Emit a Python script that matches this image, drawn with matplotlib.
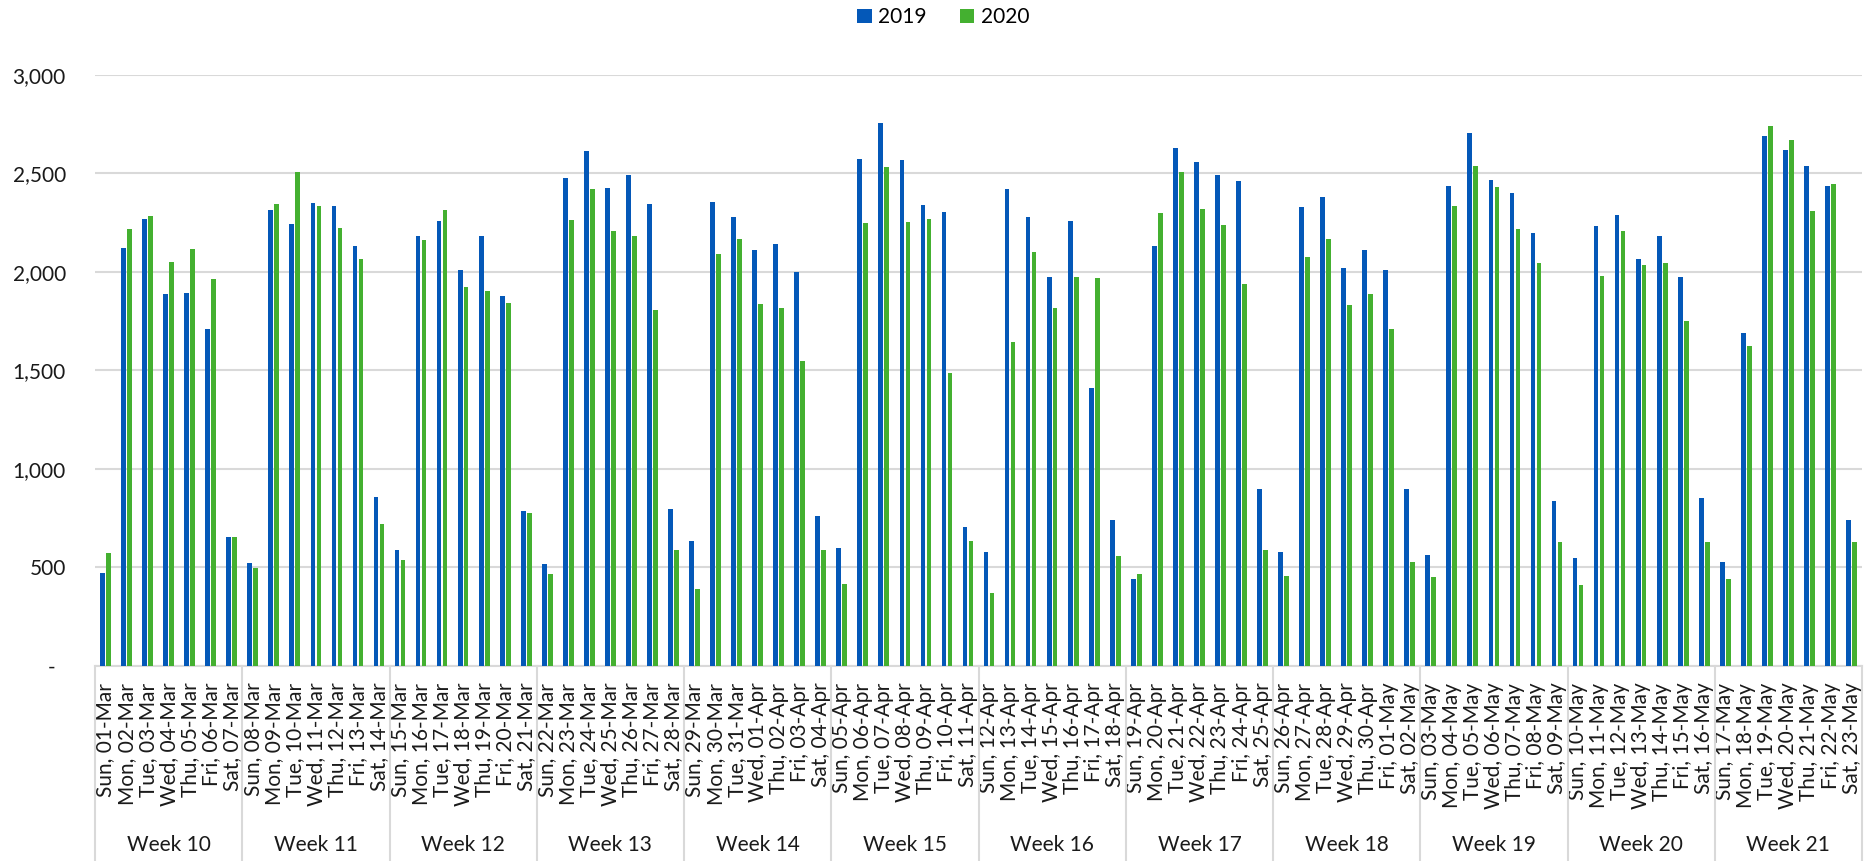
import matplotlib
matplotlib.use("Agg")
import matplotlib.pyplot as plt
import matplotlib.transforms as mtransforms
from matplotlib.patches import Patch
import pandas as pd

plt.rcParams['font.family'] = ['Lato', 'DejaVu Sans']

# 84 days, 01-Mar .. 23-May (2020 calendar)
days = pd.date_range("2020-03-01", "2020-05-23", freq="D")
day_labels = [d.strftime("%a, %d-%b") for d in days]
weeks = ["Week %d" % w for w in range(10, 22)]

v2019 = [474, 2120, 2267, 1888, 1894, 1709, 657,
         522, 2313, 2243, 2349, 2333, 2131, 857,
         590, 2185, 2261, 2010, 2181, 1880, 785,
         520, 2478, 2612, 2428, 2490, 2347, 797,
         635, 2355, 2281, 2114, 2143, 1998, 763,
         600, 2572, 2757, 2566, 2341, 2307, 707,
         580, 2422, 2279, 1976, 2261, 1412, 739,
         444, 2133, 2629, 2558, 2492, 2464, 896,
         580, 2329, 2382, 2022, 2112, 2008, 896,
         564, 2436, 2705, 2468, 2402, 2197, 837,
         550, 2231, 2289, 2068, 2181, 1976, 851,
         526, 1691, 2689, 2618, 2536, 2434, 743]

v2020 = [576, 2219, 2283, 2052, 2118, 1962, 657,
         498, 2345, 2510, 2335, 2225, 2064, 723,
         540, 2161, 2315, 1924, 1904, 1841, 779,
         466, 2263, 2422, 2209, 2181, 1807, 590,
         392, 2090, 2167, 1837, 1817, 1546, 590,
         414, 2247, 2534, 2255, 2271, 1486, 633,
         371, 1647, 2104, 1817, 1974, 1970, 556,
         468, 2299, 2508, 2319, 2239, 1938, 590,
         456, 2074, 2167, 1831, 1888, 1711, 526,
         450, 2333, 2536, 2432, 2217, 2044, 631,
         410, 1980, 2209, 2034, 2044, 1751, 627,
         440, 1622, 2741, 2671, 2311, 2448, 627]

blue = "#0458B8"
green = "#44B030"
grid_c = "#d9d9d9"

fig = plt.figure(figsize=(18.75, 8.61), dpi=100)
ax = fig.add_axes([0.0507, 0.2265, 0.9424, 0.6864])

x = list(range(len(days)))
w = 0.225
ax.bar([i - 0.145 for i in x], v2019, width=w, color=blue, zorder=3)
ax.bar([i + 0.14 for i in x], v2020, width=w, color=green, zorder=3)

ax.set_xlim(-0.5, len(days) - 0.5)
ax.set_ylim(0, 3000)
yt = [0, 500, 1000, 1500, 2000, 2500, 3000]
ax.set_yticks(yt)
ax.set_yticklabels(["-  "] + ["{:,}".format(v) for v in yt[1:]])
ax.yaxis.grid(True, color=grid_c, linewidth=1.5, zorder=0)
ax.tick_params(axis='y', length=0, pad=21, labelsize=15, labelcolor="#1a1a1a")

ax.set_xticks(x)
ax.set_xticklabels(day_labels, rotation=90, fontsize=15, color="#1a1a1a")
ax.tick_params(axis='x', length=0, pad=12)

for s in ['top', 'left', 'right']:
    ax.spines[s].set_visible(False)
ax.spines['bottom'].set_color(grid_c)
ax.spines['bottom'].set_linewidth(1.5)

# week separators and labels under the axis
trans = mtransforms.blended_transform_factory(ax.transData, ax.transAxes)
for k in range(len(weeks) + 1):
    xs = k * 7 - 0.5
    ax.plot([xs, xs], [0, -0.34], transform=trans, color=grid_c,
            linewidth=1.5, clip_on=False)
for k, name in enumerate(weeks):
    ax.text(k * 7 + 3, -0.303, name, transform=trans, ha='center',
            va='center', fontsize=15, color="#1a1a1a")

handles = [Patch(facecolor=blue, label="2019"), Patch(facecolor=green, label="2020")]
fig.legend(handles=handles, loc='center', bbox_to_anchor=(0.503, 0.98), ncol=2,
           frameon=False, fontsize=15, handlelength=0.7, handleheight=0.7,
           handletextpad=0.3, columnspacing=1.6)

fig.savefig("out.png", dpi=100)
